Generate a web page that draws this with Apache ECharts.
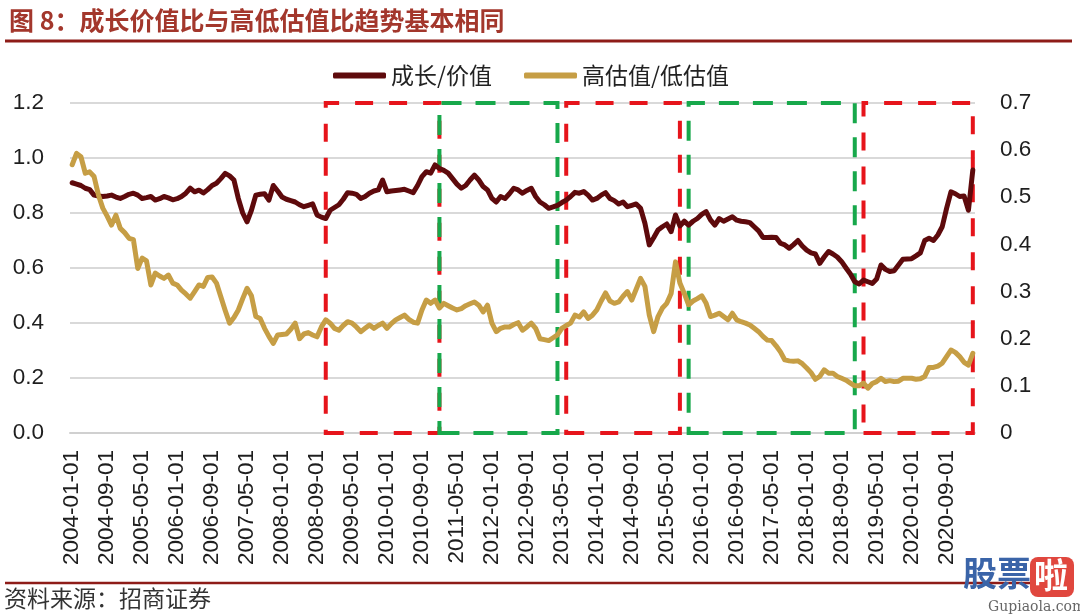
<!DOCTYPE html>
<html>
<head>
<meta charset="utf-8">
<script src="https://cdn.jsdelivr.net/npm/echarts@6/dist/echarts.min.js"></script>
<style>
html,body{margin:0;padding:0;background:#fff;}
#chart{width:1080px;height:616px;}
</style>
</head>
<body>
<div id="chart"></div>
<script>
// ---- DATA ----
const startYear = 2004;
const monthCount = 207; // 2004-01 .. 2021-03
const categories = [];
for (let i = 0; i < monthCount; i++) {
  const y = startYear + Math.floor(i / 12);
  const m = (i % 12) + 1;
  categories.push(y + '-' + (m < 10 ? '0' + m : m) + '-01');
}

const growthValue = [ // 成长/价值 (left axis)
  0.91, 0.905, 0.90, 0.89, 0.885, 0.865, 0.862, 0.86, 0.862, 0.865, 0.858, 0.853,
  0.86, 0.868, 0.872, 0.865, 0.853, 0.856, 0.86, 0.847, 0.852, 0.86, 0.855, 0.848,
  0.852, 0.86, 0.872, 0.89, 0.877, 0.883, 0.873, 0.885, 0.90, 0.908, 0.925, 0.944,
  0.935, 0.92, 0.853, 0.80, 0.768, 0.81, 0.865, 0.868, 0.87, 0.847, 0.90, 0.88,
  0.858, 0.85, 0.845, 0.84, 0.83, 0.823, 0.828, 0.833, 0.793, 0.785, 0.78, 0.81,
  0.82, 0.83, 0.85, 0.874, 0.872, 0.868, 0.853, 0.86, 0.872, 0.88, 0.884, 0.92,
  0.877, 0.88, 0.882, 0.884, 0.886, 0.88, 0.874, 0.90, 0.932, 0.95, 0.945, 0.975,
  0.962, 0.955, 0.945, 0.925, 0.905, 0.89, 0.90, 0.92, 0.938, 0.92, 0.896, 0.884,
  0.853, 0.84, 0.86, 0.853, 0.87, 0.89, 0.884, 0.872, 0.882, 0.89, 0.86, 0.84,
  0.83, 0.817, 0.822, 0.828, 0.838, 0.847, 0.86, 0.875, 0.872, 0.878, 0.865, 0.847,
  0.853, 0.865, 0.874, 0.853, 0.845, 0.833, 0.84, 0.823, 0.828, 0.833, 0.817, 0.763,
  0.684, 0.71, 0.738, 0.75, 0.76, 0.732, 0.793, 0.753, 0.77, 0.756, 0.77, 0.78,
  0.795, 0.805, 0.775, 0.756, 0.78, 0.77, 0.778, 0.786, 0.774, 0.77, 0.768, 0.765,
  0.75, 0.735, 0.711, 0.711, 0.712, 0.711, 0.69, 0.684, 0.672, 0.685, 0.70, 0.68,
  0.665, 0.655, 0.651, 0.617, 0.64, 0.66, 0.651, 0.64, 0.623, 0.60, 0.578, 0.55,
  0.542, 0.556, 0.55, 0.544, 0.56, 0.611, 0.595, 0.587, 0.59, 0.611, 0.632, 0.633,
  0.634, 0.644, 0.655, 0.70, 0.708, 0.70, 0.72, 0.75, 0.817, 0.877, 0.87, 0.86,
  0.862, 0.81, 0.956
];

const highLowVal = [ // 高估值/低估值 (right axis)
  0.569, 0.593, 0.586, 0.551, 0.554, 0.544, 0.505, 0.477, 0.46, 0.441, 0.462, 0.434,
  0.425, 0.413, 0.41, 0.349, 0.371, 0.365, 0.314, 0.339, 0.333, 0.328, 0.335, 0.318,
  0.314, 0.303, 0.295, 0.286, 0.30, 0.314, 0.311, 0.33, 0.331, 0.318, 0.289, 0.26,
  0.233, 0.245, 0.261, 0.285, 0.307, 0.291, 0.247, 0.243, 0.222, 0.205, 0.19, 0.208,
  0.209, 0.21, 0.22, 0.233, 0.20, 0.21, 0.213, 0.208, 0.204, 0.225, 0.24, 0.233,
  0.222, 0.218, 0.228, 0.236, 0.233, 0.225, 0.215, 0.222, 0.229, 0.222, 0.228, 0.233,
  0.222, 0.232, 0.24, 0.245, 0.25, 0.241, 0.235, 0.233, 0.261, 0.282, 0.275, 0.282,
  0.265, 0.275, 0.27, 0.265, 0.261, 0.264, 0.27, 0.274, 0.278, 0.271, 0.257, 0.271,
  0.233, 0.215, 0.222, 0.225, 0.225, 0.23, 0.234, 0.218, 0.225, 0.233, 0.222, 0.20,
  0.198, 0.196, 0.202, 0.208, 0.222, 0.228, 0.233, 0.25, 0.246, 0.257, 0.243, 0.25,
  0.261, 0.28, 0.297, 0.28, 0.275, 0.278, 0.29, 0.30, 0.282, 0.305, 0.328, 0.311,
  0.25, 0.215, 0.247, 0.265, 0.275, 0.296, 0.363, 0.318, 0.296, 0.272, 0.28, 0.285,
  0.291, 0.275, 0.247, 0.25, 0.254, 0.247, 0.24, 0.254, 0.24, 0.236, 0.233, 0.229,
  0.222, 0.215, 0.205, 0.197, 0.196, 0.185, 0.172, 0.155, 0.153, 0.152, 0.153, 0.147,
  0.138, 0.128, 0.114, 0.12, 0.134, 0.127, 0.127, 0.12, 0.116, 0.112, 0.106, 0.10,
  0.10, 0.106, 0.095, 0.105, 0.109, 0.116, 0.109, 0.111, 0.109, 0.11, 0.116, 0.116,
  0.116, 0.114, 0.115, 0.12, 0.139, 0.139, 0.142, 0.148, 0.162, 0.176, 0.171, 0.162,
  0.15, 0.144, 0.169
];

const leftTicks = { min: 0, max: 1.2, interval: 0.2 };
const rightTicks = { min: 0, max: 0.7, interval: 0.1 };

// highlighted periods (start category, end category)
const redPeriods = [
  ['2008-11-01', '2011-01-01'],
  ['2013-06-01', '2015-08-01'],
  ['2019-02-01', '2021-03-01']
];
const greenPeriods = [
  ['2011-01-01', '2013-04-01'],
  ['2015-10-01', '2018-12-01']
];

const seriesNames = ['成长/价值', '高估值/低估值'];
const titleText = '图 8：成长价值比与高低估值比趋势基本相同';
const sourceText = '资料来源：招商证券';

// ---- CHART ----
const RED = '#E6141B', GREEN = '#17A84B';
const MAROON = '#5E0A0C', GOLD = '#C69E45';
const labelFont = '"Liberation Sans", Arial, sans-serif';
const cjkFont = '"Noto Sans CJK SC", sans-serif';

const chart = echarts.init(document.getElementById('chart'), null, { renderer: 'canvas' });

function boxData(list) {
  return list.map(p => [{ xAxis: p[0] }, { xAxis: p[1] }]);
}

const option = {
  animation: false,
  backgroundColor: '#ffffff',
  title: {
    text: titleText,
    left: 4, top: 3,
    textStyle: { fontFamily: cjkFont, fontSize: 25, fontWeight: 'bold', color: '#A3372C' }
  },
  legend: {
    data: seriesNames,
    left: 328, top: 59,
    itemWidth: 53, itemHeight: 6, itemGap: 32,
    icon: 'roundRect',
    textStyle: { fontFamily: cjkFont, fontSize: 23, color: '#222' }
  },
  grid: { left: 70, right: 105, top: 103, bottom: 183 },
  xAxis: {
    type: 'category',
    data: categories,
    boundaryGap: true,
    axisLine: { lineStyle: { color: '#d0d0d0', width: 2 } },
    axisTick: { interval: 7, length: 7, lineStyle: { color: '#c4c4c4', width: 1.5 } },
    axisLabel: { interval: 7, rotate: 90, margin: 17, fontSize: 22.5, fontFamily: labelFont, color: '#1e1e1e' }
  },
  yAxis: [
    {
      type: 'value', min: leftTicks.min, max: leftTicks.max, interval: leftTicks.interval,
      axisLine: { show: false }, axisTick: { show: false },
      splitLine: { lineStyle: { color: '#d9d9d9', width: 2 } },
      axisLabel: { margin: 26, fontSize: 22.5, fontFamily: labelFont, color: '#1e1e1e',
        formatter: v => v.toFixed(1) }
    },
    {
      type: 'value', position: 'right', min: rightTicks.min, max: rightTicks.max, interval: rightTicks.interval,
      axisLine: { show: false }, axisTick: { show: false },
      splitLine: { show: false },
      axisLabel: { margin: 25, fontSize: 22.5, fontFamily: labelFont, color: '#1e1e1e',
        formatter: v => (Math.abs(v) < 1e-9 ? '0' : v.toFixed(1)) }
    }
  ],
  series: [
    {
      name: seriesNames[0], type: 'line', yAxisIndex: 0, data: growthValue,
      symbol: 'none', smooth: false, z: 2,
      lineStyle: { color: MAROON, width: 5, join: 'round', cap: 'round' },
      itemStyle: { color: MAROON }
    },
    {
      name: seriesNames[1], type: 'line', yAxisIndex: 1, data: highLowVal,
      symbol: 'none', smooth: false, z: 3,
      lineStyle: { color: GOLD, width: 5, join: 'round', cap: 'round' },
      itemStyle: { color: GOLD }
    },
    {
      name: 'boxesRed', type: 'line', yAxisIndex: 0, data: [], z: 5, silent: true,
      markArea: {
        silent: true,
        label: { show: false },
        itemStyle: { color: 'rgba(0,0,0,0)', borderColor: RED, borderWidth: 4, borderType: [18, 16] },
        data: boxData(redPeriods)
      }
    },
    {
      name: 'boxesGreen', type: 'line', yAxisIndex: 0, data: [], z: 4, silent: true,
      markArea: {
        silent: true,
        label: { show: false },
        itemStyle: { color: 'rgba(0,0,0,0)', borderColor: GREEN, borderWidth: 4, borderType: [20, 14] },
        data: boxData(greenPeriods)
      }
    }
  ],
  graphic: [
    { type: 'line', shape: { x1: 5, y1: 41, x2: 1072, y2: 41 }, style: { stroke: '#8E1C18', lineWidth: 3 } },
    { type: 'line', shape: { x1: 5, y1: 583, x2: 1072, y2: 583 }, style: { stroke: '#8E1C18', lineWidth: 2.5 } },
    { type: 'text', left: 4, top: 587, style: { text: sourceText, font: '23px ' + cjkFont, fill: '#333' } },
    { type: 'rect', shape: { x: 1030, y: 557, width: 44, height: 40, r: 8 }, style: { fill: '#E0473E' } },
    { type: 'text', left: 963, top: 556, style: { text: '股票', font: 'bold 34px ' + cjkFont, fill: '#3A64A8' } },
    { type: 'text', left: 1034, top: 558, style: { text: '啦', font: 'bold 34px ' + cjkFont, fill: '#ffffff' } },
    { type: 'text', left: 988, top: 600, style: { text: 'Gupiaola.com', font: '14px "DejaVu Serif", serif', fill: '#666' } }
  ]
};

chart.setOption(option);
</script>
</body>
</html>
